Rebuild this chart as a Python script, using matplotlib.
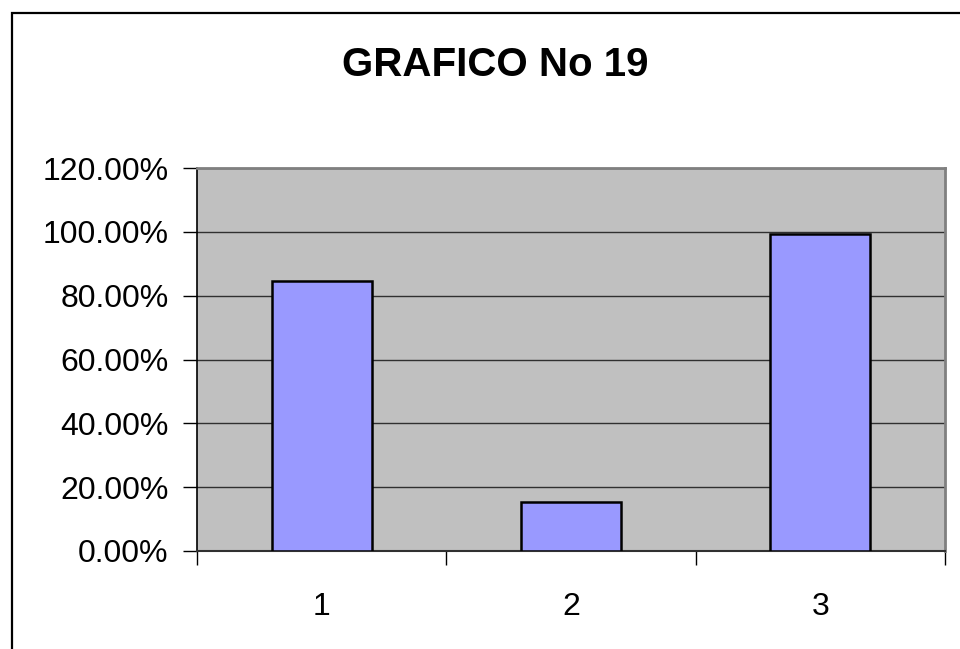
import matplotlib
matplotlib.use("Agg")
import matplotlib.pyplot as plt
from matplotlib.patches import Rectangle
from matplotlib.ticker import FuncFormatter

categories = ["1", "2", "3"]
values = [0.846, 0.154, 0.993]
y_ticks = [0.0, 0.2, 0.4, 0.6, 0.8, 1.0, 1.2]
title = "GRAFICO No 19"

plt.rcParams["font.family"] = ["Liberation Sans", "DejaVu Sans"]

W, H = 960, 649
fig = plt.figure(figsize=(W / 100, H / 100), dpi=100)
fig.patch.set_facecolor("white")

# outer chart frame (runs past the right and bottom edges)
fig.patches.append(Rectangle((11.5 / W, -0.2), 1.2, 1 - 12.5 / H + 0.2,
                             transform=fig.transFigure, fill=False,
                             edgecolor="black", linewidth=1.6))

ax = fig.add_axes([197 / W, 1 - 551 / H, (945 - 197) / W, (551 - 168) / H])
ax.set_facecolor("#C0C0C0")

x = list(range(len(categories)))
ax.bar(x, values, width=0.4, color="#9999FF", edgecolor="black",
       linewidth=1.8, zorder=3)

ax.set_xlim(-0.5, len(categories) - 0.5)
ax.set_ylim(0, 1.2)
ax.set_yticks(y_ticks)
ax.yaxis.set_major_formatter(FuncFormatter(lambda v, _: f"{v * 100:.2f}%"))
ax.grid(axis="y", color="#303030", linewidth=1.0, zorder=1)
ax.set_axisbelow(True)

# category labels centered, tick marks at the category boundaries
ax.set_xticks(x)
ax.set_xticklabels(categories)
ax.set_xticks([i - 0.5 for i in range(len(categories) + 1)], minor=True)
ax.tick_params(axis="x", which="major", length=0, pad=29.5, labelsize=23)
ax.tick_params(axis="x", which="minor", length=10, width=1.0, color="black")
ax.tick_params(axis="y", length=10, width=1.0, color="black", pad=10.5,
               labelsize=23)

for side in ("top", "right"):
    ax.spines[side].set_color("#808080")
    ax.spines[side].set_linewidth(2.0)
ax.spines["left"].set_color("black")
ax.spines["left"].set_linewidth(1.2)
ax.spines["bottom"].set_color("#303030")
ax.spines["bottom"].set_linewidth(1.5)

fig.text(495 / W, 1 - 65 / H, title, ha="center", va="center",
         fontsize=29, fontweight="bold")

fig.savefig("out.png", dpi=100)
